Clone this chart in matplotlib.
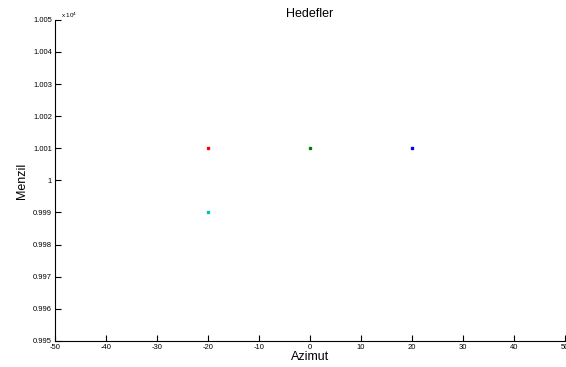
import matplotlib
matplotlib.use("Agg")
import matplotlib.pyplot as plt
from matplotlib.ticker import FuncFormatter, MultipleLocator

plt.rcParams["font.family"] = ["Liberation Sans", "DejaVu Sans"]
plt.rcParams["axes.unicode_minus"] = False

azimut = [-20, 0, 20, -20]
menzil = [10010, 10010, 10010, 9990]
colors = ["red", "green", "blue", "c"]

fig = plt.figure(figsize=(5.66, 3.67), dpi=100)
ax = fig.add_axes([0.097, 0.071, 0.901, 0.875])

for x, y, c in zip(azimut, menzil, colors):
    ax.plot(x, y, marker="s", markersize=2, color=c, linestyle="none")

ax.set_xlim(-50, 50)
ax.set_ylim(9950, 10050)
ax.xaxis.set_major_locator(MultipleLocator(10))
ax.yaxis.set_major_locator(MultipleLocator(10))
ax.yaxis.set_major_formatter(FuncFormatter(lambda v, p: f"{v / 1e4:g}"))

ax.spines["top"].set_visible(False)
ax.spines["right"].set_visible(False)
ax.tick_params(direction="in", length=4, width=0.8, labelsize=5.5, pad=2)

# the "50" tick label is clipped at the right edge, as in the reference
ax.text(0.012, 1.0, r"x 10$^4$", transform=ax.transAxes, fontsize=4.5,
        ha="left", va="bottom")
ax.set_title("Hedefler", fontsize=9, pad=1)
ax.set_xlabel("Azimut", fontsize=9, labelpad=0)
ax.set_ylabel("Menzil", fontsize=9, labelpad=4)

fig.savefig("out.png", dpi=100)
